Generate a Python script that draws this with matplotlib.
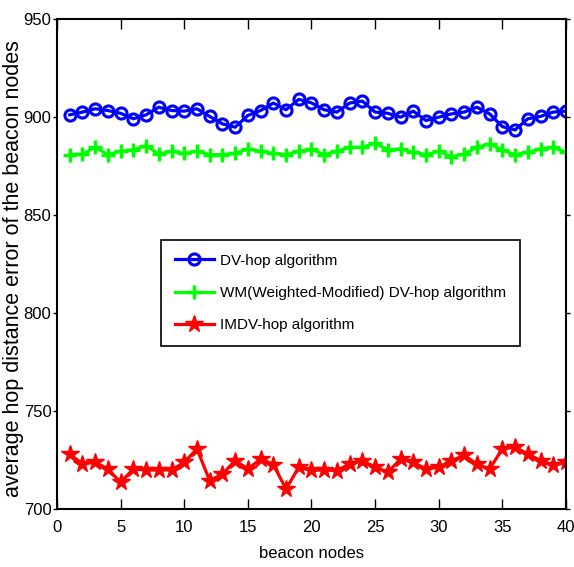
import numpy as np
import matplotlib
matplotlib.use('Agg')
import matplotlib.pyplot as plt
from matplotlib import font_manager

# beacon node index
nodes = list(range(1, 41))

dv_hop = [901.1, 902.5, 904.2, 903.3, 901.9, 899.1, 901.1, 905.0, 903.3, 903.0,
          904.2, 900.3, 896.5, 894.8, 900.8, 903.3, 907.1, 903.7, 909.0, 907.2,
          903.7, 902.5, 907.1, 908.1, 902.5, 901.9, 899.9, 903.0, 898.2, 899.9,
          901.6, 902.5, 905.0, 901.6, 895.1, 893.4, 899.1, 900.3, 902.5, 903.0]

wm_dv_hop = [880.8, 881.1, 884.5, 880.8, 882.5, 883.2, 885.4, 881.1, 882.5, 881.4,
             882.5, 880.8, 880.8, 881.4, 883.7, 882.5, 881.4, 880.8, 882.5, 883.5,
             880.8, 882.5, 884.5, 884.5, 886.6, 883.2, 883.7, 882.0, 880.8, 882.5,
             879.7, 881.1, 884.5, 886.3, 883.2, 880.8, 882.0, 883.7, 884.5, 882.0]

imdv_hop = [728.1, 723.0, 723.8, 720.4, 713.6, 720.4, 719.9, 719.9, 719.9, 723.8,
            730.7, 714.5, 717.8, 724.7, 720.4, 725.5, 722.7, 710.2, 721.3, 719.7,
            719.9, 719.6, 723.0, 724.7, 721.3, 718.7, 725.5, 723.8, 720.4, 721.3,
            724.7, 727.3, 723.0, 720.4, 730.7, 731.5, 728.1, 724.7, 722.2, 723.8]

labels = ['DV-hop algorithm',
          'WM(Weighted-Modified) DV-hop algorithm',
          'IMDV-hop algorithm']

# helvetica-like font (matlab default)
names = set(f.name for f in font_manager.fontManager.ttflist)
fam = 'Liberation Sans Narrow' if 'Liberation Sans Narrow' in names else 'Liberation Sans'
tick_font = font_manager.FontProperties(family=fam, size=12)
leg_font = font_manager.FontProperties(family=fam, size=11)
ylab_font = font_manager.FontProperties(family=fam, size=15.5)

fig = plt.figure(figsize=(5.74, 5.67), dpi=100)
ax = fig.add_axes([0.0993, 0.1023, 0.8867, 0.8642])

ax.plot(nodes, dv_hop, color='#0000ff', lw=2.3, marker='o', ms=8,
        mfc='none', mew=2.2, label=labels[0])
ax.plot(nodes, wm_dv_hop, color='#00ff00', lw=2.3, marker='+', ms=10,
        mew=2.5, label=labels[1])
ax.plot(nodes, imdv_hop, color='#ff0000', lw=2.3, marker='*', ms=13,
        label=labels[2])

ax.set_xlim(0, 40)
ax.set_ylim(700, 950)
ax.set_xticks(np.arange(0, 41, 5))
ax.set_yticks(np.arange(700, 951, 50))
for s in ax.spines.values():
    s.set_linewidth(1.5)
ax.tick_params(axis='x', direction='in', length=7, width=1, top=True, pad=8)
ax.tick_params(axis='y', direction='out', length=3, width=1, right=True, pad=1)
for t in ax.get_xticklabels() + ax.get_yticklabels():
    t.set_fontproperties(tick_font)

ax.set_xlabel('beacon nodes', fontproperties=tick_font, labelpad=8)
ax.set_ylabel('average hop distance error of the beacon nodes',
              fontproperties=ylab_font)
ax.yaxis.set_label_coords(-0.064, 0.49)

leg = ax.legend(loc='upper left', bbox_to_anchor=(0.204, 0.549),
                borderaxespad=0, prop=leg_font, frameon=True,
                fancybox=False, edgecolor='black', framealpha=1,
                handlelength=2.6, borderpad=0.9, labelspacing=1.2,
                handletextpad=0.35)
leg.get_frame().set_linewidth(1.2)

fig.savefig('out.png', dpi=100)
